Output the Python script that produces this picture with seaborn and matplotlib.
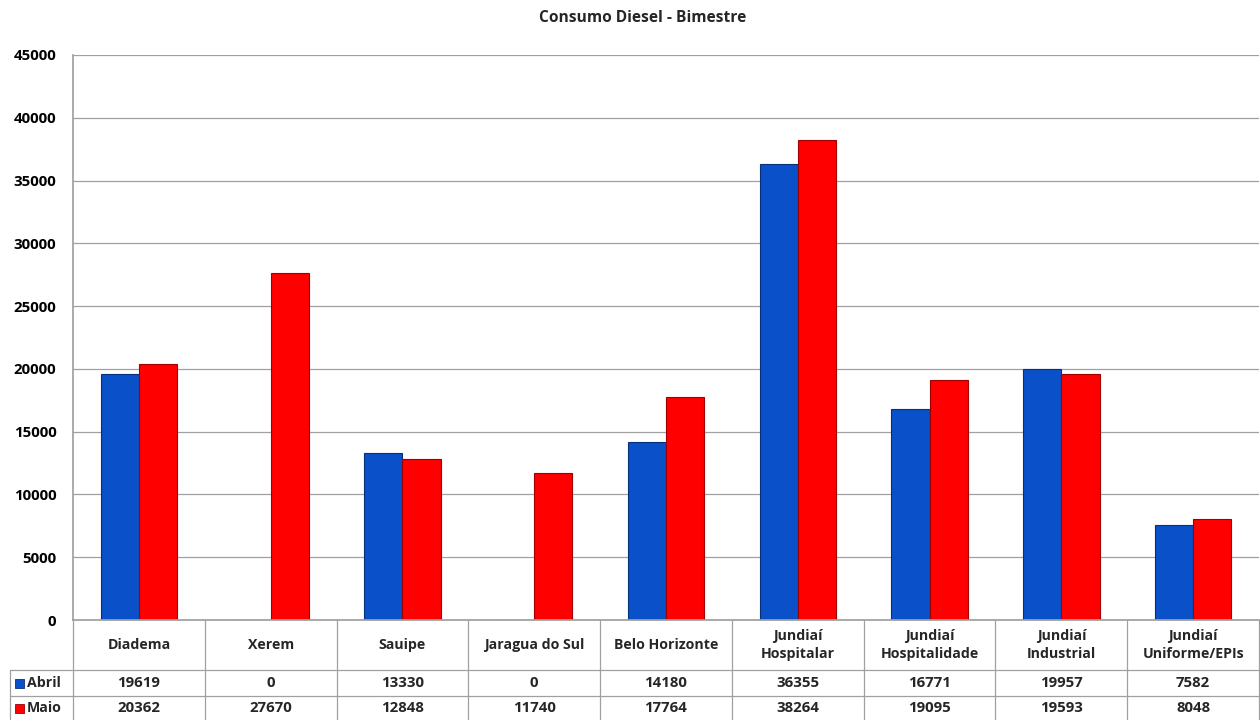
import matplotlib
matplotlib.use("Agg")
import matplotlib.pyplot as plt
import matplotlib.transforms as mtransforms
from matplotlib.patches import Rectangle
import seaborn as sns
import pandas as pd

categories = ["Diadema", "Xerem", "Sauipe", "Jaragua do Sul", "Belo Horizonte",
              "Jundiaí\nHospitalar", "Jundiaí\nHospitalidade", "Jundiaí\nIndustrial",
              "Jundiaí\nUniforme/EPIs"]
abril = [19619, 0, 13330, 0, 14180, 36355, 16771, 19957, 7582]
maio = [20362, 27670, 12848, 11740, 17764, 38264, 19095, 19593, 8048]
series_names = ["Abril", "Maio"]
yticks = [0, 5000, 10000, 15000, 20000, 25000, 30000, 35000, 40000, 45000]
title = "Consumo Diesel - Bimestre"

colors = {"Abril": "#0a50c8", "Maio": "#ff0000"}
edges = {"Abril": "#06307a", "Maio": "#a00000"}

sns.set_theme(style="white")
plt.rcParams["font.family"] = ["Open Sans", "DejaVu Sans"]
FS_NUM = 10.8
FS_TXT = 10.2

df = pd.DataFrame({
    "cat": categories * 2,
    "serie": [series_names[0]] * len(categories) + [series_names[1]] * len(categories),
    "valor": abril + maio,
})

W, H = 1260, 720
fig = plt.figure(figsize=(12.6, 7.2), dpi=100)
left_px, right_px, top_px, bot_px = 73, 1259, 55, 620
ax = fig.add_axes([left_px / W, 1 - bot_px / H, (right_px - left_px) / W, (bot_px - top_px) / H])

sns.barplot(data=df, x="cat", y="valor", hue="serie", palette=colors, ax=ax,
            width=0.58, saturation=1, legend=False, order=categories,
            hue_order=series_names)
for cont, s in zip(ax.containers, series_names):
    for p in cont.patches:
        p.set_edgecolor(edges[s])
        p.set_linewidth(0.8)

ax.set_xlim(-0.5, len(categories) - 0.5)
ax.set_ylim(0, 45000)
ax.set_yticks(yticks)
ax.set_yticklabels([str(v) for v in yticks], fontsize=FS_NUM, fontweight="bold", color="black")
ax.tick_params(axis="y", length=0, pad=12)
for lab in ax.get_yticklabels():
    lab.set_verticalalignment("center_baseline")
ax.set_xticks([])
ax.set_xlabel("")
ax.set_ylabel("")
ax.grid(axis="y", color="#a0a0a0", linewidth=0.9)
ax.set_axisbelow(True)
for sp in ["top", "right"]:
    ax.spines[sp].set_visible(False)
ax.spines["left"].set_color("#a0a0a0")
ax.spines["bottom"].set_color("#a0a0a0")

fig.text(643 / W, 1 - 18 / H, title, ha="center", va="center", fontsize=11.2, fontweight="bold")

# data table
trans = mtransforms.blended_transform_factory(ax.transData, fig.transFigure)
y_top = 1 - bot_px / H
y_r1 = 1 - 670 / H
y_r2 = 1 - 696 / H
y_bot = 1 - 720 / H
lc = "#a0a0a0"
x0 = -0.5
xl = x0 - (left_px - 10) / ((right_px - left_px) / len(categories))
for k in range(len(categories) + 1):
    ax.plot([k - 0.5, k - 0.5], [y_top, y_bot], transform=trans, color=lc, lw=0.9, clip_on=False)
for yy in [y_r1, y_r2]:
    ax.plot([xl, len(categories) - 0.5], [yy, yy], transform=trans, color=lc, lw=0.9, clip_on=False)
ax.plot([xl, xl], [y_r1, y_bot], transform=trans, color=lc, lw=0.9, clip_on=False)

for i, c in enumerate(categories):
    ax.text(i, (y_top + y_r1) / 2, c, transform=trans, ha="center", va="center",
            fontsize=FS_TXT, fontweight="bold", linespacing=1.45)
    ax.text(i, (y_r1 + y_r2) / 2, str(abril[i]), transform=trans, ha="center", va="center",
            fontsize=FS_NUM, fontweight="bold")
    ax.text(i, (y_r2 + y_bot) / 2, str(maio[i]), transform=trans, ha="center", va="center",
            fontsize=FS_NUM, fontweight="bold")

for s, yc in zip(series_names, [(y_r1 + y_r2) / 2, (y_r2 + y_bot) / 2]):
    fig.patches.append(Rectangle((15 / W, yc - 4.5 / H), 9 / W, 9 / H, transform=fig.transFigure,
                                 facecolor=colors[s], edgecolor=edges[s], lw=0.6))
    fig.text(27 / W, yc, s, ha="left", va="center", fontsize=FS_TXT, fontweight="bold")

fig.savefig("out.png", dpi=100, facecolor="white")
